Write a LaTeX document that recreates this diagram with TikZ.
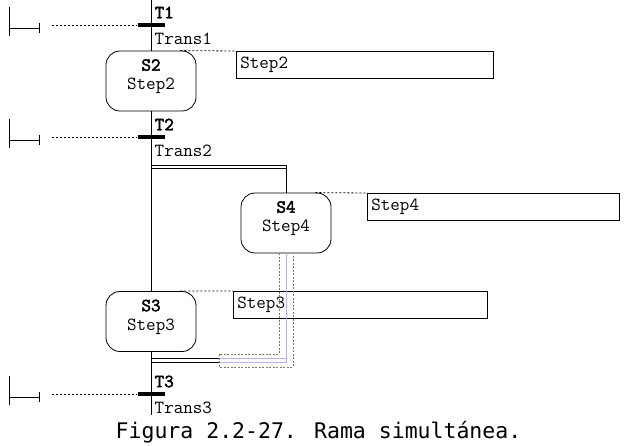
\documentclass[tikz,border=0pt]{standalone}
\usepackage{fontspec}
\setmonofont{Latin Modern Mono}[AutoFakeBold=2.5]
\newfontfamily\capfont{DejaVu Sans Mono}
\usepackage{tikz}
\usetikzlibrary{positioning, calc}
\definecolor{selBlue}{HTML}{B4B4F0}
\definecolor{selGrey}{HTML}{7A7A6A}

\begin{document}
\begin{tikzpicture}[
  x=1pt, y=-1pt,
  line width=0.8pt,
  every node/.style={font=\ttfamily\fontsize{18.5}{19}\selectfont},
  stepbox/.style={draw, rounded corners=14pt, minimum width=90pt, minimum height=60pt, inner sep=0pt},
  bar/.style={fill=black, minimum width=27pt, minimum height=4pt, inner sep=0pt},
  commentbox/.style={draw, anchor=north west, minimum height=27pt, inner sep=4pt, align=left},
  dots/.style={dash pattern=on 2pt off 2pt, line width=0.8pt},
  selbox/.style={selGrey, dash pattern=on 2pt off 1.5pt, line width=0.7pt}
]
\useasboundingbox (0,0) rectangle (632,446);

% transitions with their jump brackets
\foreach \n/\y in {1/25, 2/137, 3/394} {
  \node[bar] (T\n) at (151,\y) {};
  \node[anchor=west] (T\n name) at (151,\y-12.5) {\textbf{T\n}};
  \node[anchor=west] (T\n text) at (151,\y+13.5) {Trans\n};
  \draw (9,\y-18) -- (9,\y+11) (9,\y+3) -- (39,\y+3) (39,\y-2) -- (39,\y+8);
  \coordinate (L\n) at (52,\y);
  \draw[dots] (L\n) -- (T\n.west);
}

% steps
\node[stepbox] (S2) at (151,81) {};
\node[stepbox] (S4) at (286,223) {};
\node[stepbox] (S3) at (151,321.5) {};
\node[align=center] (S2t) at ([yshift=4.5pt]S2.center) {\textbf{S2}\\Step2};
\node[align=center] (S4t) at ([yshift=4.5pt]S4.center) {\textbf{S4}\\Step4};
\node[align=center] (S3t) at ([yshift=4.5pt]S3.center) {\textbf{S3}\\Step3};

% comment boxes
\node[commentbox, text width=249pt] (C2) at (236,51) {Step2};
\node[commentbox, text width=244pt] (C4) at (367,193) {Step4};
\node[commentbox, text width=246pt] (C3) at (233,291) {Step3};
\draw[dots] ([xshift=-16pt]S2.north east) -- (C2.north west);
\draw[dots] ([xshift=-16pt]S4.north east) -- (C4.north west);
\draw[dots] ([xshift=-16pt]S3.north east) -- (C3.north west);

% main sequence
\coordinate (top) at (151,0);
\coordinate (bottom) at (151,415);
\draw (top) -- (T1) -- (S2) -- (T2) -- (S3) -- (T3) -- (bottom);

% simultaneous branch: fork
\coordinate (fork) at (151,165);
\coordinate (fork2) at (151,168);
\draw (fork) -| (S4.north);
\draw (fork2) -- (fork2 -| S4.north);

% simultaneous branch: join
\coordinate (join) at (151,358);
\coordinate (join2) at (151,362);
\coordinate (selL) at (219,358);
\coordinate (selL2) at (219,362);
\draw (join) -- (selL);
\draw (join2) -- (selL2);
\draw[selBlue] (S4.south) |- (selL2);
\draw[selBlue] (selL) -- (selL -| S4.south);
\draw[selbox] ($(S4.south)+(-7,0)$) |- (219,354) -- (219,367) -| ($(S4.south)+(7,0)$);

\node[font=\capfont\fontsize{21.5}{24}\selectfont, anchor=base] (cap) at (318.5,438) {Figura 2.2-27. Rama simultánea.};
\end{tikzpicture}
\end{document}
